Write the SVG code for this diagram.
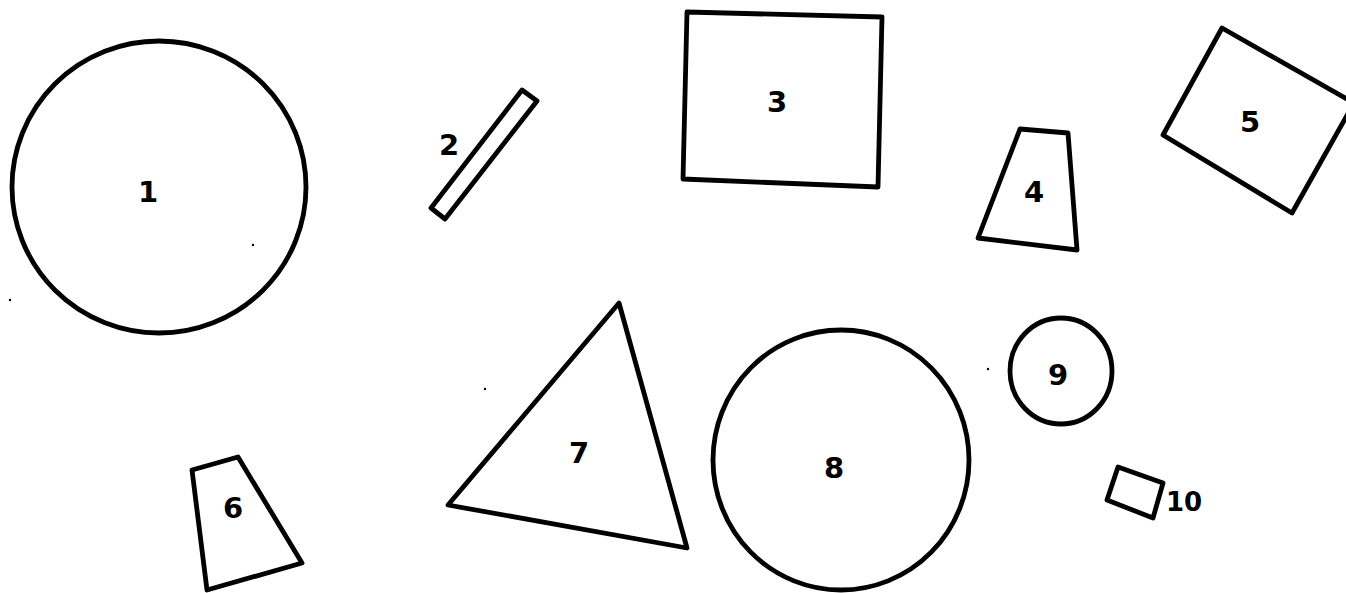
<svg xmlns="http://www.w3.org/2000/svg" width="1346" height="593" viewBox="0 0 1346 593">
<style>
.s{fill:none;stroke:#000;stroke-width:4.8;stroke-linejoin:round;stroke-linecap:round}
.t{font-family:"DejaVu Sans",sans-serif;font-weight:bold;font-size:29px;fill:#000;text-anchor:middle}
.d{fill:#000}
</style>
<rect width="1346" height="593" fill="#fff"/>
<g id="shape1"><ellipse class="s" cx="159" cy="187" rx="147" ry="146"/><text class="t" x="148" y="202">1</text></g>
<g id="shape2"><polygon class="s" points="522,90 537,101 445,219 431,208"/><text class="t" x="449" y="155">2</text></g>
<g id="shape3"><polygon class="s" points="687,12 882,17 878,187 683,179"/><text class="t" x="777" y="112">3</text></g>
<g id="shape4"><polygon class="s" points="1020,129 1068,133 1077,250 978,238"/><text class="t" x="1034" y="202">4</text></g>
<g id="shape5"><polygon class="s" points="1222,28 1354,103 1292,213 1163,135"/><text class="t" x="1250" y="132">5</text></g>
<g id="shape6"><polygon class="s" points="192,470 238,457 302,563 207,590"/><text class="t" x="233" y="518">6</text></g>
<g id="shape7"><polygon class="s" points="619,303 687,548 448,505"/><text class="t" x="579" y="463">7</text></g>
<g id="shape8"><ellipse class="s" cx="841" cy="460" rx="128" ry="130"/><text class="t" x="834" y="478">8</text></g>
<g id="shape9"><ellipse class="s" cx="1061" cy="371" rx="51" ry="53"/><text class="t" x="1058" y="385">9</text></g>
<g id="shape10"><polygon class="s" points="1118,467 1163,483 1153,518 1107,500"/><text class="t" x="1184" y="511" style="font-size:26px">10</text></g>
<g id="specks">
<circle class="d" cx="253" cy="245" r="1.2"/>
<circle class="d" cx="10" cy="300" r="1.2"/>
<circle class="d" cx="485" cy="389" r="1.2"/>
<circle class="d" cx="988" cy="369" r="1.2"/>
</g>
</svg>
